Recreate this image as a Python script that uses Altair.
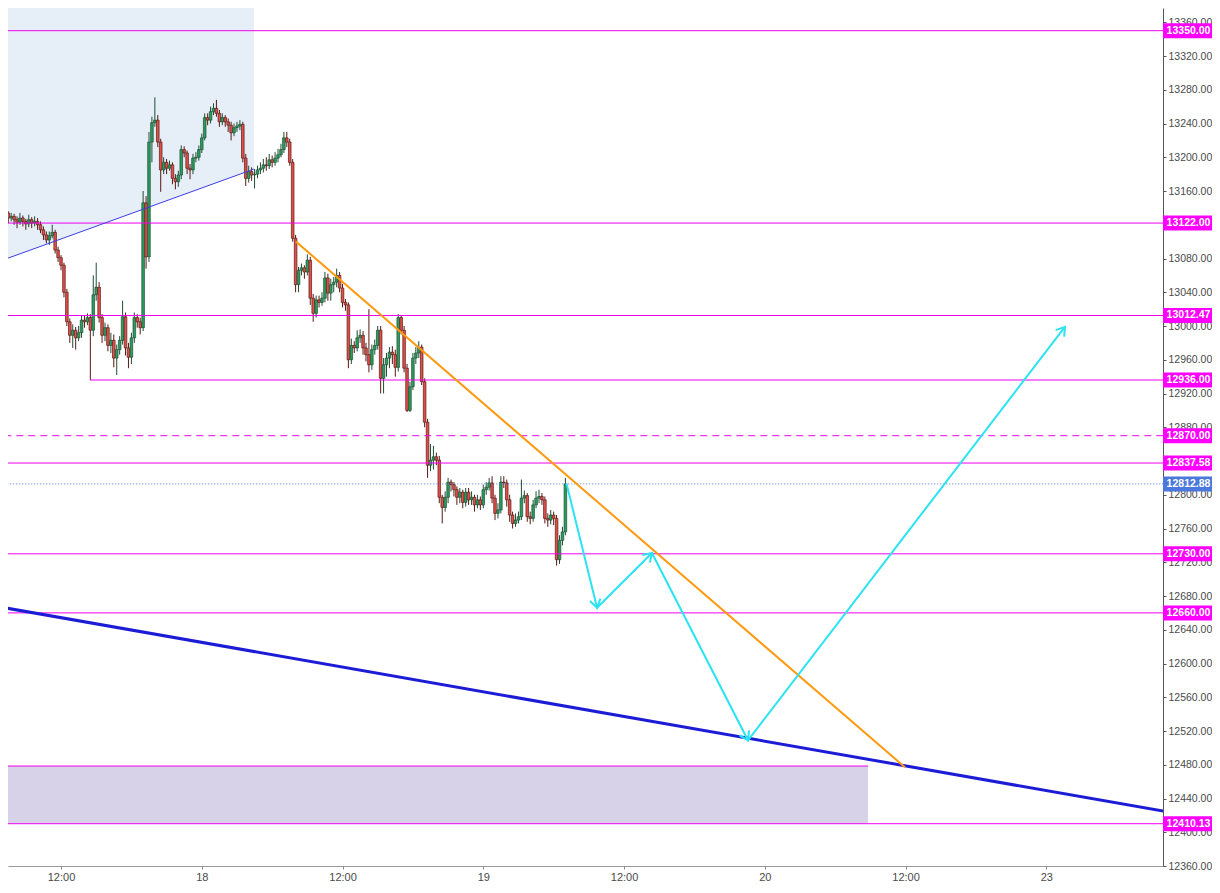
import altair as alt
import pandas as pd

# ---------------- data ----------------
# time is "trading hours since 17th 00:00" (weekend removed), 15-minute bars
bar_start_hour = 7.0
bar_step_hours = 0.25
first_open = 13133

closes = [
    13137, 13134, 13128, 13130, 13126, 13123, 13128, 13124, 13121, 13126,
    13122, 13124, 13120, 13114, 13108, 13102, 13107, 13111, 13090, 13081,
    13072, 13040, 13005, 12989, 12995, 12986, 12992, 13007, 13005, 13010,
    12995, 13037, 13046, 13010, 12989, 12998, 12977, 12983, 12962, 12972,
    12983, 13011, 12974, 12963, 12986, 13010, 13005, 12998, 13146, 13082,
    13218, 13241, 13244, 13218, 13185, 13194, 13187, 13191, 13175, 13171,
    13179, 13209, 13205, 13187, 13185, 13199, 13200, 13209, 13223, 13247,
    13244, 13254, 13258, 13252, 13242, 13247, 13242, 13238, 13229, 13235,
    13237, 13239, 13199, 13175, 13183, 13179, 13180, 13185, 13187, 13191,
    13190, 13197, 13194, 13199, 13203, 13209, 13223, 13218, 13194, 13104,
    13049, 13066, 13069, 13064, 13078, 13033, 13015, 13031, 13028, 13033,
    13057, 13039, 13049, 13052, 13060, 13045, 13028, 13025, 12960, 12977,
    12974, 12986, 12989, 12974, 12966, 12954, 12972, 12977, 12995, 12938,
    12954, 12962, 12969, 12966, 12951, 13010, 12995, 12950, 12900, 12928,
    12962, 12968, 12975, 12934, 12886, 12835, 12841, 12845, 12841, 12797,
    12785, 12797, 12815, 12812, 12806, 12797, 12803, 12791, 12803, 12794,
    12797, 12788, 12794, 12788, 12806, 12809, 12814, 12796, 12778, 12782,
    12815, 12814, 12794, 12776, 12766, 12770, 12774, 12796, 12799, 12774,
    12772, 12788, 12796, 12798, 12794, 12772, 12770, 12776, 12772, 12723,
    12746, 12756, 12812.88,
]
highs = [
    13142, 13140, 13136, 13134, 13133, 13130, 13134, 13131, 13127, 13132,
    13129, 13130, 13128, 13124, 13118, 13112, 13112, 13120, 13114, 13094,
    13084, 13075, 13044, 13009, 13002, 12999, 13000, 13012, 13012, 13015,
    13014, 13060, 13075, 13052, 13014, 13004, 13002, 12992, 12990, 12978,
    12988, 13030, 13016, 12980, 12992, 13016, 13014, 13010, 13160, 13154,
    13230, 13248, 13271, 13250, 13222, 13200, 13198, 13196, 13194, 13180,
    13184, 13214, 13213, 13208, 13192, 13204, 13206, 13214, 13228, 13252,
    13252, 13260, 13264, 13268, 13256, 13252, 13250, 13246, 13242, 13240,
    13242, 13244, 13242, 13204, 13190, 13188, 13186, 13190, 13194, 13198,
    13200, 13204, 13202, 13206, 13210, 13216, 13230, 13230, 13222, 13198,
    13108, 13070, 13074, 13072, 13085, 13082, 13038, 13036, 13036, 13040,
    13064, 13062, 13056, 13058, 13068, 13064, 13050, 13032, 13028, 12985,
    12982, 12995, 12996, 12994, 12980, 13020, 12978, 12984, 13000, 13000,
    12962, 12968, 12975, 12976, 12972, 13014, 13012, 13000, 12955, 12934,
    12968, 12975, 12982, 12978, 12938, 12890, 12860, 12858, 12850, 12846,
    12800, 12804, 12820, 12818, 12815, 12810, 12808, 12806, 12808, 12808,
    12804, 12800, 12800, 12798, 12812, 12815, 12820, 12822, 12800, 12790,
    12822, 12822, 12818, 12800, 12780, 12778, 12780, 12818, 12805, 12802,
    12780, 12794, 12804, 12806, 12802, 12798, 12778, 12782, 12780, 12776,
    12752, 12762, 12820,
]
lows = [
    13130, 13128, 13122, 13124, 13120, 13116, 13120, 13118, 13114, 13117,
    13116, 13118, 13114, 13110, 13102, 13098, 13096, 13104, 13086, 13076,
    13066, 13034, 13000, 12980, 12974, 12972, 12982, 12986, 12998, 13001,
    12936, 12988, 13030, 13004, 12980, 12982, 12970, 12968, 12951, 12942,
    12966, 12978, 12965, 12950, 12955, 12980, 12998, 12990, 12994, 13068,
    13076, 13194, 13236, 13212, 13159, 13180, 13180, 13184, 13168, 13162,
    13165, 13174, 13200, 13180, 13174, 13180, 13194, 13196, 13205, 13220,
    13238, 13240, 13250, 13248, 13236, 13238, 13236, 13230, 13220, 13225,
    13230, 13232, 13194, 13166, 13170, 13172, 13163, 13175, 13180, 13182,
    13184, 13186, 13188, 13190, 13194, 13200, 13205, 13212, 13190, 13100,
    13040, 13040, 13060, 13056, 13060, 13025, 13005, 13010, 13022, 13024,
    13028, 13030, 13030, 13040, 13046, 13040, 13022, 13018, 12950, 12955,
    12968, 12970, 12980, 12966, 12958, 12945, 12948, 12966, 12972, 12920,
    12920, 12940, 12950, 12955, 12940, 12946, 12990, 12945, 12898, 12898,
    12924, 12955, 12962, 12930, 12880, 12820, 12828, 12830, 12835, 12790,
    12766, 12780, 12790, 12804, 12798, 12788, 12790, 12784, 12786, 12788,
    12788, 12780, 12784, 12782, 12784, 12800, 12805, 12790, 12770, 12772,
    12778, 12808, 12786, 12768, 12760, 12762, 12766, 12770, 12790, 12768,
    12765, 12768, 12784, 12790, 12788, 12766, 12762, 12765, 12764, 12716,
    12718, 12740, 12752,
]

# horizontal levels
level_prices = [13350, 13122, 13012.47, 12936, 12837.58, 12730, 12660, 12410.13]
level_starts = [0, 0, 0, 14.47, 0, 0, 0, 0]
dashed_level = 12870
current_price = 12812.88
box_prices = [13350, 13122, 13012.47, 12936, 12870, 12837.58, 12812.88, 12730, 12660, 12410.13]
box_kind = ["lvl", "lvl", "lvl", "lvl", "lvl", "lvl", "cur", "lvl", "lvl", "lvl"]

# purple zone
zone_t = [0, 80.8]
zone_p = [12410.13, 12478.5]

# shaded region above the thin blue trend line
thin_t = [6.8, 28.45]
thin_p = [13077, 13186]
shade_top = 13450

# thick blue trend line, orange trend line
thick_t = [6.8, 106.0]
thick_p = [12667, 12425]
orange_t = [32.03, 83.95]
orange_p = [13100, 12477]

# cyan projected path
path_t = [55.1, 57.70, 62.38, 70.57, 97.59]
path_p = [12813, 12666, 12731, 12509, 12999]
head_angle = [167, 45, 153, 37.5]

# x-axis ticks
tick_hours = [12, 24, 36, 48, 60, 72, 84, 96]
tick_labels = ["12:00", "18", "12:00", "19", "12:00", "20", "12:00", "23"]
price_ticks = list(range(12360, 13361, 40))

# ---------------- build ----------------
opens = [first_open] + closes[:-1]
hours = [bar_start_hour + bar_step_hours * i for i in range(len(closes))]
candles = pd.DataFrame({"t": hours, "open": opens, "close": closes,
                        "high": highs, "low": lows})
candles["dir"] = ["up" if c >= o else "down" for o, c in zip(opens, closes)]

W, H = 1155, 858
BOX_W = 49
xs = alt.Scale(domain=[7.48, 105.95], nice=False, zero=False, padding=0)
ys = alt.Scale(domain=[12360.0, 13376.9], nice=False, zero=False, padding=0)

MAG = "#f000f0"
FONT = "Liberation Sans"

label_expr = " : ".join(
    f"datum.value == {h} ? '{l}'" for h, l in zip(tick_hours, tick_labels)
) + " : ''"

x_axis = alt.Axis(values=tick_hours, labelExpr=label_expr, grid=False,
                  title=None, labelFontSize=11, labelColor="#4a4a4a",
                  labelFont=FONT, tickSize=3, tickColor="#888",
                  domainColor="#999", labelPadding=2, labelFlush=False)
y_axis = alt.Axis(orient="right", values=price_ticks, format=".2f", grid=False,
                  title=None, labelFontSize=10.5, labelColor="#4a4a4a",
                  labelFont=FONT, tickSize=3, tickColor="#555",
                  domainColor="#555", labelPadding=2, labelFlush=False)


def X(field):
    return alt.X(field, scale=xs, axis=x_axis)


def Y(field):
    return alt.Y(field, scale=ys, axis=y_axis)


# shading
shade_df = pd.DataFrame({"t": thin_t, "p": thin_p, "top": [shade_top] * 2})
shade = alt.Chart(shade_df).mark_area(color="#e6eef8", clip=True).encode(
    x=X("t:Q"), y=Y("p:Q"), y2="top:Q",
)

zone_df = pd.DataFrame({"t0": [zone_t[0]], "t1": [zone_t[1]],
                        "p0": [zone_p[0]], "p1": [zone_p[1]]})
zone = alt.Chart(zone_df).mark_rect(color="#d8d2e8", clip=True).encode(
    x=X("t0:Q"), x2="t1:Q", y=Y("p0:Q"), y2="p1:Q",
)
zone_top = alt.Chart(zone_df).mark_rule(color=MAG, strokeWidth=1, clip=True).encode(
    x=X("t0:Q"), x2="t1:Q", y=Y("p1:Q"),
)

# candles
dir_scale_fill = alt.Scale(domain=["up", "down"], range=["#2a9c5e", "#e0504a"])
dir_scale_line = alt.Scale(domain=["up", "down"], range=["#1d4f33", "#5a1812"])

wicks = alt.Chart(candles).mark_rule(strokeWidth=1, clip=True).encode(
    x=X("t:Q"), y=Y("low:Q"), y2="high:Q",
    color=alt.Color("dir:N", scale=dir_scale_line, legend=None),
)
bodies = alt.Chart(candles).mark_bar(size=2.6, strokeWidth=0.7, clip=True).encode(
    x=X("t:Q"), y=Y("open:Q"), y2="close:Q",
    fill=alt.Fill("dir:N", scale=dir_scale_fill, legend=None),
    stroke=alt.Stroke("dir:N", scale=dir_scale_line, legend=None),
)

# level lines
lv_df = pd.DataFrame({"p": level_prices, "t0": level_starts,
                      "t1": [110] * len(level_prices)})
levels = alt.Chart(lv_df).mark_rule(color=MAG, strokeWidth=1, clip=True).encode(
    x=X("t0:Q"), x2="t1:Q", y=Y("p:Q"),
)
dash_df = pd.DataFrame({"p": [dashed_level], "t0": [0], "t1": [110]})
dashed = alt.Chart(dash_df).mark_rule(color=MAG, strokeWidth=1,
                                      strokeDash=[7, 5], clip=True).encode(
    x=X("t0:Q"), x2="t1:Q", y=Y("p:Q"),
)
cur_df = pd.DataFrame({"p": [current_price], "t0": [0], "t1": [110]})
cur_line = alt.Chart(cur_df).mark_rule(color="#4a78dc", strokeWidth=1,
                                       strokeDash=[1, 2], clip=True).encode(
    x=X("t0:Q"), x2="t1:Q", y=Y("p:Q"),
)


def seg(t, p, color, width):
    df = pd.DataFrame({"t0": [t[0]], "t1": [t[1]], "p0": [p[0]], "p1": [p[1]]})
    return alt.Chart(df).mark_rule(color=color, strokeWidth=width, clip=True).encode(
        x=X("t0:Q"), x2="t1:Q", y=Y("p0:Q"), y2="p1:Q",
    )


thin_line = seg(thin_t, thin_p, "#3c3ce6", 1)
thick_line = seg(thick_t, thick_p, "#1c1cd6", 3)
orange_line = seg(orange_t, orange_p, "#ff9a10", 2)

path_df = pd.DataFrame({"t": path_t, "p": path_p, "k": list(range(len(path_t)))})
cyan = alt.Chart(path_df).mark_line(color="#2be3f3", strokeWidth=2, clip=True).encode(
    x=X("t:Q"), y=Y("p:Q"), order="k:Q",
)
heads_df = pd.DataFrame({"t": path_t[1:], "p": path_p[1:], "ang": head_angle})
heads = alt.Chart(heads_df).mark_point(
    shape="M -0.55 0.85 L 0 0 L 0.55 0.85", filled=False, size=380,
    strokeWidth=2, color="#2be3f3", opacity=1, clip=True,
).encode(
    x=X("t:Q"), y=Y("p:Q"),
    angle=alt.Angle("ang:Q", scale=None),
)

# price boxes on the axis
box_df = pd.DataFrame({"p": box_prices, "kind": box_kind,
                       "txt": [f"{v:.2f}" for v in box_prices]})
boxes = alt.Chart(box_df).mark_tick(orient="horizontal", thickness=15, size=BOX_W,
                                    opacity=1).encode(
    x=alt.value(W + BOX_W / 2),
    y=Y("p:Q"),
    color=alt.Color("kind:N", scale=alt.Scale(domain=["lvl", "cur"],
                                              range=["#ff00ff", "#4a78dc"]),
                    legend=None),
)
box_txt = alt.Chart(box_df).mark_text(align="center", baseline="middle",
                                      fontSize=10.5, fontWeight="bold",
                                      font=FONT, color="white").encode(
    x=alt.value(W + BOX_W / 2 + 1),
    y=Y("p:Q"),
    text="txt:N",
)

chart = alt.layer(
    shade, zone, wicks, bodies, zone_top, levels, dashed, cur_line,
    thin_line, thick_line, orange_line, cyan, heads, boxes, box_txt,
).resolve_scale(color="independent").properties(
    width=W, height=H, padding=0,
).configure_view(stroke=None)

chart.save("out.html", embed_options={"renderer": "svg", "actions": False})
